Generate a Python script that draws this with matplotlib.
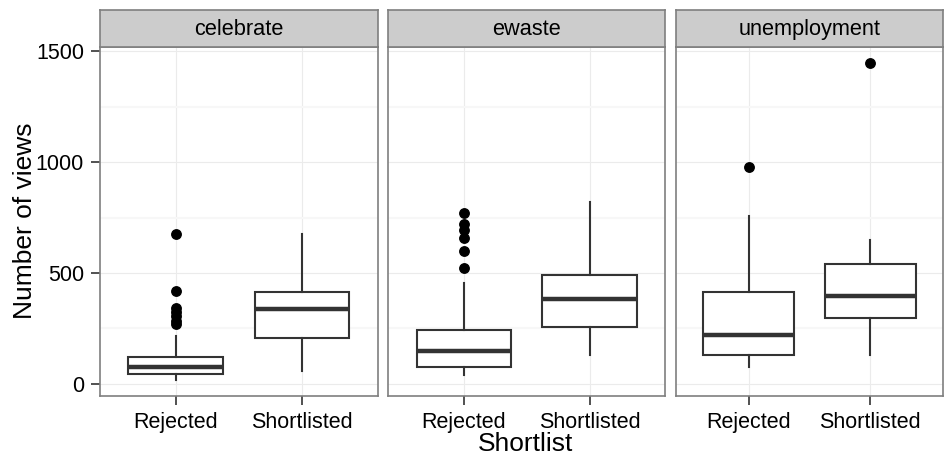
import matplotlib as mpl
import matplotlib.pyplot as plt

mpl.rc('font', family=['Liberation Sans', 'DejaVu Sans'])

# 三个话题, 每个话题两组 (Rejected / Shortlisted)
topics = ['celebrate', 'ewaste', 'unemployment']
groups = ['Rejected', 'Shortlisted']

# 箱线图统计量: [Rejected, Shortlisted]
whisker_lo = [[17, 59], [39, 130], [77, 130]]
q1 = [[44, 205], [78, 258], [131, 295]]
median = [[78, 337], [149, 381], [220, 396]]
q3 = [[119, 416], [243, 492], [413, 541]]
whisker_hi = [[217, 676], [453, 819], [759, 651]]
outliers = [
    [[676, 417, 342, 325, 305, 285, 268], []],
    [[770, 721, 694, 657, 598, 523], []],
    [[977], [1449]],
]

y_ticks = [0, 500, 1000, 1500]
y_minor = [250, 750, 1250]

W, H = 944, 459
fig = plt.figure(figsize=(W / 100, H / 100), dpi=100)

panel_x = [(100, 377.7), (388.3, 665), (675.7, 943)]
panel_top, panel_bottom, strip_top = 46.7, 396, 10.3

box_col = '#333333'
border_col = '#7F7F7F'

for i, t in enumerate(topics):
    x0, x1 = panel_x[i]
    ax = fig.add_axes([x0 / W, 1 - panel_bottom / H, (x1 - x0) / W, (panel_bottom - panel_top) / H])
    stats = []
    for j in range(2):
        stats.append(dict(med=median[i][j], q1=q1[i][j], q3=q3[i][j],
                          whislo=whisker_lo[i][j], whishi=whisker_hi[i][j],
                          fliers=outliers[i][j]))
    ax.bxp(stats, positions=[1, 2], widths=0.75, showcaps=False, patch_artist=True,
           boxprops=dict(facecolor='white', edgecolor=box_col, linewidth=1.5),
           whiskerprops=dict(color=box_col, linewidth=1.5),
           medianprops=dict(color=box_col, linewidth=3.2, solid_capstyle='butt'),
           flierprops=dict(marker='o', markersize=6.8, markerfacecolor='black',
                           markeredgecolor='black'),
           zorder=3)

    ax.set_xlim(0.4, 2.6)
    ax.set_ylim(-55, 1521)
    ax.set_xticks([1, 2])
    ax.set_xticklabels(groups, fontsize=15.5)
    ax.set_yticks(y_ticks)
    ax.set_yticks(y_minor, minor=True)
    ax.tick_params(axis='both', which='major', length=6.5, width=1.2, color='#333333', pad=5)
    ax.tick_params(axis='y', which='minor', length=0)
    if i == 0:
        ax.set_yticklabels([str(v) for v in y_ticks], fontsize=15.5)
    else:
        ax.set_yticklabels([])
        ax.tick_params(axis='y', which='major', length=0)

    # 网格线
    ax.grid(True, which='major', color='#EBEBEB', linewidth=0.8, zorder=0)
    ax.grid(True, which='minor', axis='y', color='#F7F7F7', linewidth=1.5, zorder=0)
    ax.set_axisbelow(True)
    for s in ax.spines.values():
        s.set_color(border_col)
        s.set_linewidth(1.2)

    # 分面标题条
    sax = fig.add_axes([x0 / W, 1 - panel_top / H, (x1 - x0) / W, (panel_top - strip_top) / H])
    sax.set_facecolor('#CCCCCC')
    sax.set_xticks([])
    sax.set_yticks([])
    for s in sax.spines.values():
        s.set_color(border_col)
        s.set_linewidth(1.2)
    sax.text(0.5, 0.47, t, ha='center', va='center', fontsize=15.7, transform=sax.transAxes)

fig.text(25 / W, 1 - 221 / H, 'Number of views', rotation=90, ha='center', va='center', fontsize=19)
fig.text(526 / W, 1 - 444 / H, 'Shortlist', ha='center', va='center', fontsize=19)

fig.savefig('out.png', dpi=100)
